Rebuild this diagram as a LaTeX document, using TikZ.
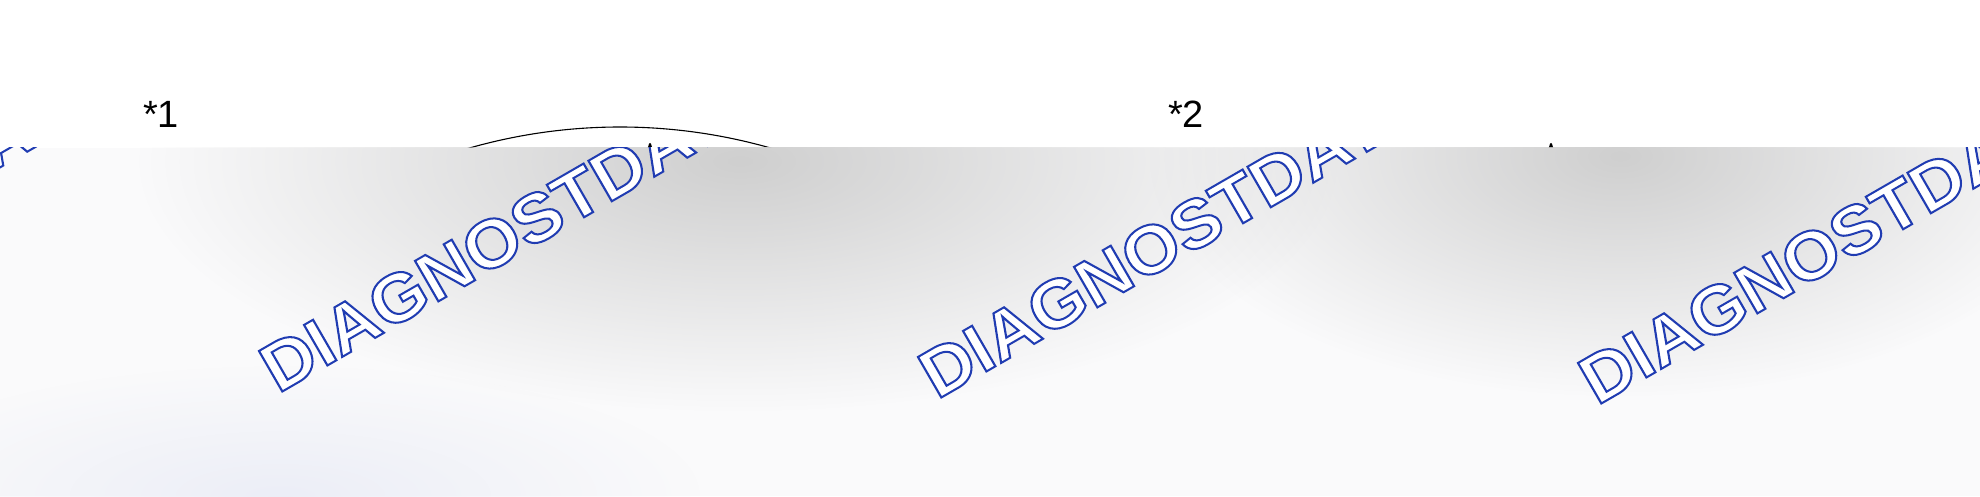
\documentclass[tikz,border=0pt]{standalone}
\usepackage{fontspec}
\setmainfont{Liberation Sans}
\usetikzlibrary{arrows, positioning, fadings}
\definecolor{wmblue}{RGB}{32,60,178}
\definecolor{bandbase}{RGB}{250,250,251}
\definecolor{spotgray}{RGB}{207,207,207}
\definecolor{bluetint}{RGB}{236,238,247}
\tikzfading[name=softspot, inner color=transparent!0, outer color=transparent!100]
% white letters with a thin blue rim (fill + stroke render mode)
\newcommand{\rimtext}[1]{{\color{white}\special{pdf:literal direct 2 Tr 2 w 0.125 0.235 0.698 RG}#1\special{pdf:literal direct 0 Tr}}}

\begin{document}
\begin{tikzpicture}[x=1pt, y=1pt,
        marklabel/.style={font=\fontsize{38}{44}\selectfont, inner sep=0pt, anchor=base west},
        wmtext/.style={font=\fontsize{68}{76}\selectfont\bfseries, rotate=30, xscale=1.06, anchor=base west, inner sep=0pt},
        spot/.style={path fading=softspot},
        >=stealth', thin]
        \useasboundingbox (0,0) rectangle (1980,496);
        \fill[white] (0,0) rectangle (1980,496);
            % labels
            \node[marklabel] (note1) at (143,368) {*1};
            \node[marklabel] (note2) at (1168,368) {*2};
            % arc and arrows
            \coordinate (arcctr) at (620,-181);
            \draw[line width=1.1pt] ([shift={(108:550)}]arcctr) arc[start angle=108, end angle=72, radius=550];
            \coordinate (tipA) at (650,353);
            \coordinate (tailA) at (650,320);
            \coordinate (tipB) at (1551,353);
            \coordinate (tailB) at (1551,320);
            \draw[->, line width=2pt] (tailA) -- (tipA);
            \draw[->, line width=2pt] (tailB) -- (tipB);
            % shaded band with watermark
            \begin{scope}
              \clip (0,0) rectangle (1980,348);
              \fill[bandbase] (0,0) rectangle (1980,348);
              \fill[spotgray, spot] (740,335) ellipse [x radius=600, y radius=250];
              \fill[spotgray, spot] (1620,340) ellipse [x radius=470, y radius=240];
              \fill[bluetint, spot] (280,0) ellipse [x radius=420, y radius=130];
              \foreach \wx/\wy [count=\i] in {-382/108, 278/102, 937/96, 1597/90}
                \node[wmtext] (wm\i) at (\wx,\wy) {\rimtext{DIAGNOSTDATA}};
            \end{scope}
        \end{tikzpicture}
\end{document}
